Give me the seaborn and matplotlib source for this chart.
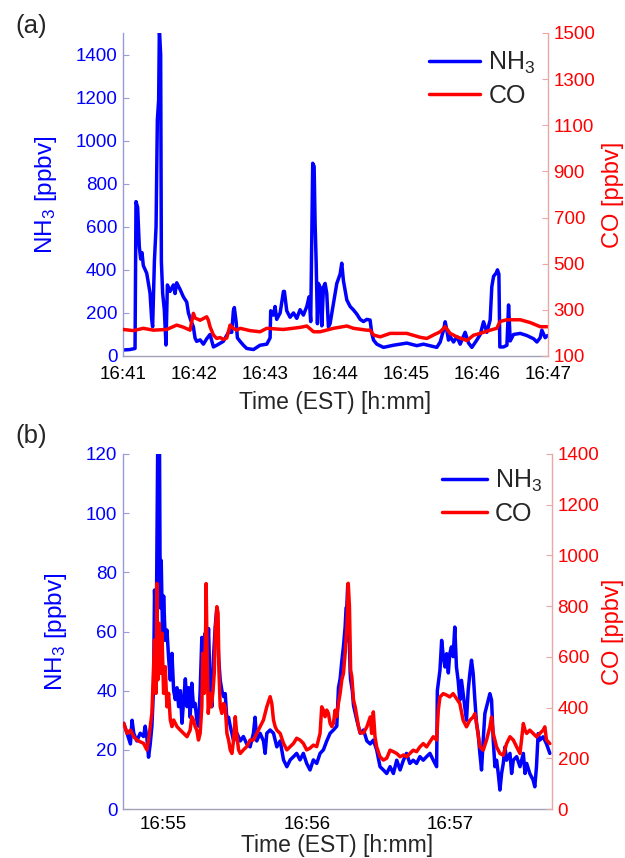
import matplotlib
matplotlib.use("Agg")
import matplotlib.pyplot as plt
from matplotlib.ticker import FixedLocator, FuncFormatter
import seaborn as sns
import pandas as pd

# ---------------- Panel (a) data: seconds after 16:41:00 ----------------
a_nh3_t = [0.3, 5.9, 10.2, 11.0, 12.4, 13.8, 15.0, 16.1, 17.2, 20.1, 22.9, 24.3, 25.1, 26.6, 28.0,
           29.1, 30.2, 30.8, 31.9, 32.5, 33.6, 35.0, 36.4, 37.6, 39.8, 42.7, 44.1, 45.5, 48.3, 51.1,
           54.0, 55.4, 57.3, 59.6, 61.0, 62.4, 65.3, 68.1, 70.9, 73.7, 76.6, 79.4, 85.0, 89.3, 92.1,
           93.5, 94.3, 95.8, 96.9, 99.2, 102.0, 104.8, 110.5, 116.1, 121.8, 124.6, 125.1, 127.4, 128.8,
           130.2, 133.1, 135.9, 136.7, 138.7, 141.5, 144.4, 147.2, 150.0, 152.8, 155.7, 157.6, 159.0,
           160.7, 161.9, 162.7, 163.6, 164.7, 165.5, 166.9, 168.4, 169.8, 171.2, 172.6, 174.0, 175.4,
           178.3, 181.1, 183.9, 185.3, 186.7, 189.6, 192.4, 195.2, 198.0, 200.9, 203.7, 206.5, 209.3,
           210.7, 212.2, 215.0, 220.6, 229.1, 240.4, 248.9, 254.5, 265.8, 268.7, 271.5, 272.9, 274.3,
           275.7, 277.1, 280.0, 282.8, 285.6, 289.8, 292.7, 295.5, 299.7, 302.6, 305.4, 308.2, 311.0,
           312.4, 313.9, 316.1, 317.2, 318.4, 319.2, 322.3, 325.2, 326.6, 328.0, 330.8, 336.5, 342.1,
           347.8, 350.6, 353.4, 354.8, 357.6, 359.6]
a_nh3_v = [28, 30, 35, 717, 690, 508, 450, 480, 420, 384, 292, 170, 136, 440, 600,
           1096, 1189, 1520, 1400, 440, 290, 215, 51, 330, 300, 330, 290, 340, 310, 275,
           250, 200, 167, 136, 84, 68, 75, 55, 80, 100, 42, 50, 68, 110, 110,
           210, 225, 160, 84, 68, 50, 35, 30, 50, 55, 84, 210, 190, 230,
           170, 200, 300, 300, 210, 180, 200, 175, 215, 190, 230, 275, 160,
           895, 880, 620, 440, 150, 337, 320, 140, 320, 337, 290, 136, 150,
           245, 337, 380, 431, 350, 260, 230, 214, 195, 170, 160, 170, 167,
           106, 74, 55, 40, 50, 60, 48, 55, 40, 65, 120, 159, 120,
           74, 90, 65, 90, 55, 110, 60, 40, 74, 100, 159, 110, 167,
           322, 370, 385, 400, 380, 42, 42, 50, 237, 70, 100, 105, 95,
           80, 65, 85, 120, 85, 95]

a_co_t = [0.3, 8.8, 17.2, 25.7, 37.0, 45.5, 51.1, 56.8, 59.6, 61.0, 65.3, 70.9, 72.3, 73.7, 76.6,
          79.4, 82.2, 85.0, 87.9, 90.7, 93.5, 96.3, 99.2, 107.6, 116.1, 121.8, 135.9, 150.0, 155.7,
          161.4, 167.0, 178.3, 189.6, 195.2, 206.5, 209.3, 212.2, 217.8, 226.3, 240.4, 251.7, 257.4,
          263.0, 268.7, 272.9, 277.1, 282.8, 291.3, 296.9, 302.6, 311.0, 316.6, 319.5, 325.1, 336.5,
          344.9, 353.4, 359.6]
a_co_v = [215, 210, 220, 212, 215, 234, 225, 212, 285, 265, 255, 270, 255, 227, 191,
          176, 180, 172, 178, 234, 220, 212, 220, 210, 205, 220, 215, 224, 230,
          205, 205, 220, 230, 220, 212, 212, 191, 183, 198, 198, 181, 176,
          191, 205, 227, 198, 183, 167, 190, 198, 212, 220, 250, 257, 257,
          245, 227, 227]

# ---------------- Panel (b) data: seconds after 16:54:00 ----------------
b_nh3_t = [43.3, 44.7, 46.1, 46.8, 47.5, 48.8, 50.2, 51.6, 52.3, 53.0, 53.7, 54.4, 55.1, 55.8, 56.2,
           56.9, 57.5, 58.3, 58.6, 59.0, 59.6, 60.0, 60.7, 61.4, 62.1, 62.8, 63.5, 64.2, 64.9, 65.6,
           66.3, 67.0, 67.7, 68.4, 69.1, 69.8, 70.5, 71.1, 71.8, 72.5, 73.2, 73.9, 74.6, 75.3, 76.0,
           76.7, 77.4, 78.1, 78.8, 79.5, 80.2, 80.9, 81.6, 82.3, 83.0, 83.7, 84.4, 85.1, 85.8, 86.5,
           87.2, 87.9, 88.6, 89.3, 90.7, 92.1, 93.4, 94.8, 96.2, 97.6, 98.3, 99.0, 100.4, 101.8, 102.5,
           103.2, 104.6, 106.0, 107.4, 108.8, 110.2, 111.6, 113.0, 114.4, 115.7, 117.1, 118.5, 119.9,
           121.3, 122.7, 124.1, 125.5, 126.9, 128.3, 129.7, 131.1, 132.5, 133.2, 133.9, 134.6, 135.3,
           136.0, 136.4, 136.7, 137.1, 137.4, 137.8, 138.1, 138.3, 139.0, 139.5, 140.9, 142.3, 143.7,
           145.1, 146.5, 147.8, 149.2, 150.6, 152.0, 153.4, 154.8, 156.2, 157.6, 159.0, 160.4, 161.7,
           163.1, 164.5, 165.9, 167.3, 168.7, 170.1, 171.5, 172.9, 174.3, 174.6, 175.7, 176.4, 177.1,
           177.8, 178.5, 179.2, 179.8, 180.5, 181.2, 181.9, 182.6, 183.3, 184.0, 184.7, 185.4, 186.1,
           186.8, 187.5, 188.2, 188.9, 189.6, 190.3, 191.0, 191.7, 192.4, 193.1, 193.8, 194.5, 195.2,
           195.9, 196.6, 197.3, 198.0, 198.7, 199.4, 200.1, 200.8, 201.5, 202.2, 202.9, 203.6, 205.0,
           205.7, 206.4, 207.8, 209.2, 210.6, 211.3, 212.0, 213.3, 214.7, 215.4, 216.1, 216.8, 217.5,
           218.9, 220.3, 221.7]
b_nh3_v = [29, 25.6, 22, 30, 25.6, 23, 25.6, 24.5, 28, 24, 17.5, 22, 28, 41, 74,
           57, 120, 120, 68, 84, 57, 72, 57, 60.5, 51, 43.6, 52.6, 40, 37, 41,
           34.6, 40, 29, 37, 44, 34.6, 41, 31, 42.5, 34.6, 35.7, 30, 28, 40, 58,
           51.5, 59.4, 46, 61, 40, 34.6, 51.5, 61.6, 68, 51.5, 43.6, 40, 38, 39, 30,
           31, 28, 25.6, 23, 25.6, 23, 24.5, 22, 21, 25.6, 31, 23, 25.6, 23, 18.8,
           25.6, 26.7, 25.6, 21, 23, 16.6, 14.3, 16.6, 17.7, 18.8, 16.6, 18.8, 15.4,
           13.2, 16.6, 15.4, 18.8, 20, 23, 25.6, 26.7, 28, 41, 44, 50, 55,
           61.6, 68, 68.4, 76, 57, 56, 46, 43.6, 40, 35, 30, 25.6, 26.7,
           23, 22, 23.3, 20, 14.3, 13.2, 12, 14.3, 12, 16.5, 13.2, 16.5, 18.8,
           15.4, 16.5, 15.4, 17.7, 16.5, 17.7, 18.8, 16.5, 14.3, 40, 47, 57, 51.5,
           48, 52.5, 46, 52.5, 54.8, 51.5, 61.5, 48, 43.5, 36.8, 43.5, 39, 34.5,
           30, 40, 45.8, 50.3, 45.8, 37, 29, 25.5, 18.8, 13.2, 23.3, 32.3, 34.5,
           36.8, 39, 36.8, 23.3, 14.3, 16.5, 12, 6.4, 12, 15.4, 21, 16.5, 18.8,
           12, 16.5, 17.7, 14.3, 18.8, 12, 15.4, 12, 9.8, 7.5, 14.3, 25.5, 23.3,
           24.4, 22, 18.8]

b_co_t = [43.3, 44.7, 46.1, 47.5, 48.8, 50.2, 51.6, 53.0, 53.7, 54.4, 55.1, 55.8, 56.2, 56.8, 57.2,
          57.6, 58.2, 58.6, 59.3, 60.0, 60.7, 61.4, 62.1, 62.8, 63.5, 64.2, 65.6, 67.0, 68.4, 69.8,
          71.1, 71.8, 72.5, 73.2, 73.9, 74.6, 75.3, 76.0, 76.4, 77.0, 77.6, 77.8, 78.3, 78.7, 79.3,
          79.9, 80.6, 81.2, 81.7, 82.3, 82.8, 83.2, 83.7, 84.4, 85.1, 85.8, 86.5, 87.2, 87.9, 88.6,
          89.3, 90.0, 90.7, 91.4, 92.1, 93.4, 94.8, 96.2, 97.6, 99.0, 100.4, 101.8, 103.2, 104.6,
          105.3, 106.0, 106.7, 107.4, 108.8, 110.2, 111.6, 113.0, 114.4, 115.7, 117.1, 118.5, 119.9,
          121.3, 122.7, 124.1, 125.5, 126.2, 126.9, 127.6, 128.3, 129.0, 129.7, 130.4, 131.1, 131.8,
          132.5, 133.2, 133.9, 134.6, 135.3, 136.0, 136.7, 137.3, 137.8, 138.3, 138.8, 139.5, 140.2,
          140.9, 141.6, 142.3, 143.7, 145.1, 146.5, 147.1, 147.8, 148.5, 149.2, 150.6, 152.0, 153.4,
          154.8, 156.2, 157.6, 159.0, 160.4, 161.7, 163.1, 164.5, 165.9, 167.3, 168.7, 170.1, 171.5,
          172.9, 174.3, 175.0, 175.7, 177.1, 178.5, 179.8, 181.2, 182.6, 184.0, 185.4, 186.8, 188.2,
          189.6, 190.3, 191.0, 192.4, 193.8, 195.2, 196.6, 197.3, 198.0, 199.4, 200.8, 202.2, 203.6,
          205.0, 206.4, 207.8, 209.2, 210.6, 211.3, 212.0, 213.3, 214.7, 216.1, 217.5, 218.9, 219.6,
          220.3, 221.7]
b_co_v = [338, 298, 311, 285, 272, 265, 259, 233, 272, 325, 377, 561, 666, 456, 889,
          509, 732, 535, 693, 456, 561, 403, 456, 351, 325, 351, 325, 311, 298, 285,
          311, 364, 351, 325, 311, 272, 298, 403, 614, 456, 719, 889, 561, 377, 456,
          403, 456, 535, 706, 798, 772, 535, 403, 377, 416, 403, 298, 272, 233, 219,
          272, 364, 285, 233, 219, 233, 246, 272, 272, 298, 325, 351, 403, 443,
          416, 351, 325, 311, 298, 259, 233, 246, 259, 279, 272, 259, 233,
          240, 252, 246, 298, 403, 390, 364, 390, 377, 338, 325, 338, 390,
          364, 417, 456, 509, 535, 614, 719, 890, 798, 548, 522, 430, 403,
          364, 325, 300, 300, 324, 363, 298, 383, 285, 245, 206, 193, 200,
          232, 226, 219, 206, 213, 206, 219, 232, 226, 245, 258, 245, 265,
          285, 272, 390, 442, 455, 449, 442, 455, 436, 416, 350, 324, 350,
          363, 376, 337, 245, 232, 272, 324, 363, 298, 245, 219, 212, 258,
          285, 272, 245, 219, 337, 311, 298, 311, 298, 285, 298, 311, 324,
          272, 258]

# axis definitions
a_xticks = [41, 42, 43, 44, 45, 46, 47]
b_xticks = [55, 56, 57]
a_left_ticks = [0, 200, 400, 600, 800, 1000, 1200, 1400]
a_right_ticks = [100, 300, 500, 700, 900, 1100, 1300, 1500]
b_left_ticks = [0, 20, 40, 60, 80, 100, 120]
b_right_ticks = [0, 200, 400, 600, 800, 1000, 1200, 1400]

sns.set_style("white")
plt.rcParams["font.family"] = ["Liberation Sans", "DejaVu Sans"]
plt.rcParams["mathtext.fontset"] = "custom"
plt.rcParams["mathtext.rm"] = "Liberation Sans"
plt.rcParams["mathtext.it"] = "Liberation Sans:italic"

BLUE = "#0000ff"
RED = "#ff0000"
LSP = "#9a9ad8"   # left spine
RSP = "#e8a8a8"   # right spine
BSP = "#a0a0b8"   # bottom spine

fig = plt.figure(figsize=(6.25, 8.58), dpi=100)
W, H = 625.0, 858.0
TICK = 13.5


def make_axes(l, r, b, t):
    return fig.add_axes([l / W, 1 - b / H, (r - l) / W, (b - t) / H])


def style(ax, ax2, xlim, xticks, ylim1, yt1, ylim2, yt2, rpad, xpad, xlpad):
    ax.set_xlim(*xlim)
    ax.set_ylim(*ylim1)
    ax2.set_ylim(*ylim2)
    ax.xaxis.set_major_locator(FixedLocator(xticks))
    ax.xaxis.set_major_formatter(FuncFormatter(lambda v, p: "16:%02d" % round(v)))
    ax.set_yticks(yt1)
    ax2.set_yticks(yt2)
    for s in ["top", "right"]:
        ax.spines[s].set_visible(False)
    for s in ["top", "left", "bottom"]:
        ax2.spines[s].set_visible(False)
    ax.spines["left"].set_color(LSP)
    ax.spines["bottom"].set_color(BSP)
    ax2.spines["right"].set_color(RSP)
    for sp in [ax.spines["left"], ax.spines["bottom"], ax2.spines["right"]]:
        sp.set_linewidth(1.0)
    ax.tick_params(axis="x", direction="in", length=4, color=BSP, labelsize=TICK,
                   labelcolor="black", pad=xpad)
    ax.tick_params(axis="y", direction="in", length=4, color=LSP, labelsize=TICK,
                   labelcolor=BLUE, pad=4)
    ax2.tick_params(axis="y", direction="in", length=4, color=RSP, labelsize=TICK,
                    labelcolor=RED, pad=4)
    ax.set_xlabel("Time (EST) [h:mm]", fontsize=16.5, labelpad=xlpad)
    ax.set_ylabel("NH$_3$ [ppbv]", fontsize=17.5, color=BLUE, labelpad=12)
    ax2.set_ylabel("CO [ppbv]", fontsize=17, color=RED, labelpad=rpad)
    ax.set_facecolor("none")
    ax.grid(False)
    ax2.grid(False)


def draw(ax, ax2, t_nh3, v_nh3, t_co, v_co, base):
    d1 = pd.DataFrame({"time": [base + s / 60.0 for s in t_nh3], "val": v_nh3})
    d2 = pd.DataFrame({"time": [base + s / 60.0 for s in t_co], "val": v_co})
    sns.lineplot(data=d1, x="time", y="val", ax=ax, color=BLUE, linewidth=2.5,
                 estimator=None, label="NH$_3$", legend=False)
    sns.lineplot(data=d2, x="time", y="val", ax=ax2, color=RED, linewidth=2.5,
                 estimator=None, label="CO", legend=False)


# Panel (a)
axa = make_axes(123, 548, 356, 33)
axa2 = axa.twinx()
draw(axa, axa2, a_nh3_t, a_nh3_v, a_co_t, a_co_v, 41)
style(axa, axa2, (41, 47), a_xticks, (0, 1500), a_left_ticks, (100, 1500), a_right_ticks,
      5, 7, 6)

# Panel (b)
axb = make_axes(123, 552, 809, 454)
axb2 = axb.twinx()
draw(axb, axb2, b_nh3_t, b_nh3_v, b_co_t, b_co_v, 54)
style(axb, axb2, (54 + 43.0 / 60, 54 + 222.6 / 60), b_xticks, (0, 120), b_left_ticks,
      (0, 1400), b_right_ticks, 2, 5, 1)

for ax, ax2, anchor, hl in [(axa, axa2, (0.72, 0.947), 2.05), (axb, axb2, (0.744, 0.961), 1.8)]:
    h1, l1 = ax.get_legend_handles_labels()
    h2, l2 = ax2.get_legend_handles_labels()
    ax2.legend(h1 + h2, l1 + l2, loc="upper left", bbox_to_anchor=anchor,
               frameon=False, fontsize=18, handlelength=hl, handletextpad=0.32,
               labelspacing=0.3, borderaxespad=0, borderpad=0)

fig.text(15 / W, 1 - 26 / H, "(a)", fontsize=18.5, va="center", ha="left")
fig.text(15 / W, 1 - 436 / H, "(b)", fontsize=18.5, va="center", ha="left")

fig.savefig("out.png", dpi=100)
